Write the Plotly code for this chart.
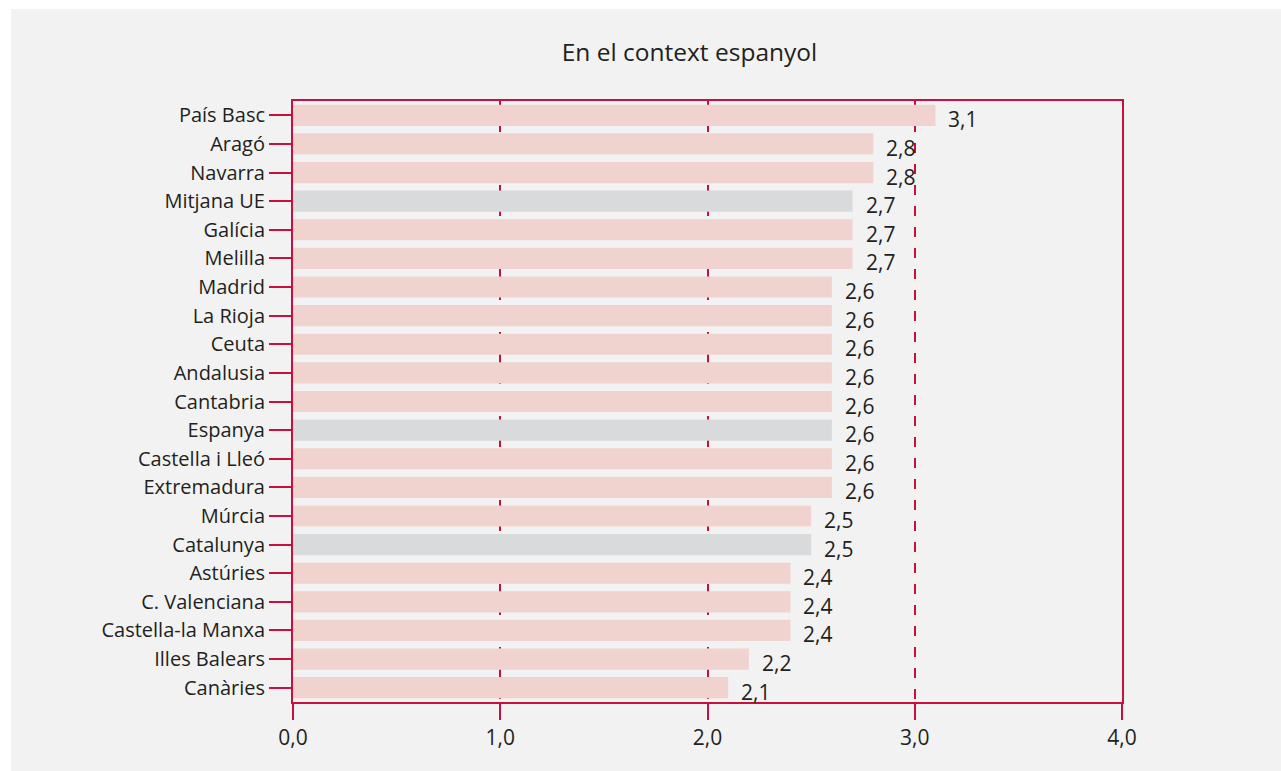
import plotly.graph_objects as go

# Regional values (index, one decimal)
regions = ["País Basc", "Aragó", "Navarra", "Mitjana UE", "Galícia", "Melilla",
           "Madrid", "La Rioja", "Ceuta", "Andalusia", "Cantabria", "Espanya",
           "Castella i Lleó", "Extremadura", "Múrcia", "Catalunya", "Astúries",
           "C. Valenciana", "Castella-la Manxa", "Illes Balears", "Canàries"]
values = [3.1, 2.8, 2.8, 2.7, 2.7, 2.7, 2.6, 2.6, 2.6, 2.6, 2.6, 2.6, 2.6, 2.6,
          2.5, 2.5, 2.4, 2.4, 2.4, 2.2, 2.1]
# Reference aggregates shown in grey
highlight = ["Mitjana UE", "Espanya", "Catalunya"]
x_ticks = [0, 1, 2, 3, 4]

RED = "#c8103e"
PINK = "#f0d3ce"
GREY = "#d9dadc"
BG = "#f2f2f2"
TEXT = "#231f20"
FONT = "'Open Sans', sans-serif"

W, H = 1281, 771
L, R, T, B = 293, 159, 101, 69

colors = [GREY if r in highlight else PINK for r in regions]

fig = go.Figure()
fig.add_trace(go.Bar(
    x=values, y=regions, orientation="h",
    marker=dict(color=colors, line=dict(width=0)),
    width=0.74, hoverinfo="skip",
))

# value labels to the right of each bar
annotations = []
for r, v in zip(regions, values):
    annotations.append(dict(
        x=v, y=r, xref="x", yref="y",
        text=f"{v:.1f}".replace(".", ","),
        showarrow=False, xanchor="left", yanchor="middle",
        xshift=11, yshift=-4,
        font=dict(family=FONT, size=21, color=TEXT),
    ))

pw = W - L - R
ph = H - T - B

fig.update_layout(
    width=W, height=H,
    margin=dict(l=L, r=R, t=T, b=B, pad=0),
    paper_bgcolor="white",
    plot_bgcolor=BG,
    separators=",.",
    showlegend=False,
    font=dict(family=FONT, size=20, color=TEXT),
    title=dict(text="En el context espanyol", x=689.5 / W, xanchor="center",
               y=1 - 52 / H, yanchor="middle",
               font=dict(family=FONT, size=24.5, color=TEXT)),
    annotations=annotations,
    shapes=[dict(type="rect", xref="paper", yref="paper", layer="below",
                 x0=(11 - L) / pw, x1=(W - L) / pw,
                 y0=-B / ph, y1=(H - B - 9) / ph,
                 fillcolor=BG, line=dict(width=0))],
    xaxis=dict(
        range=[0, 4], tickvals=x_ticks, tickformat=".1f",
        showgrid=True, gridcolor=RED, gridwidth=2, griddash="10px,11px",
        showline=True, linecolor=RED, linewidth=2, mirror=True,
        ticks="outside", ticklen=16, tickwidth=2, tickcolor=RED,
        zeroline=False, fixedrange=True,
        tickfont=dict(family=FONT, size=21, color=TEXT),
    ),
    yaxis=dict(
        categoryorder="array", categoryarray=regions,
        range=[len(regions) - 0.5, -0.5], autorange=False,
        showgrid=False, showline=True, linecolor=RED, linewidth=2, mirror=True,
        ticks="outside", ticklen=22, tickwidth=2, tickcolor=RED,
        zeroline=False, fixedrange=True,
        tickfont=dict(family=FONT, size=20, color=TEXT),
    ),
    bargap=0.26,
)

fig.write_html("out.html")
